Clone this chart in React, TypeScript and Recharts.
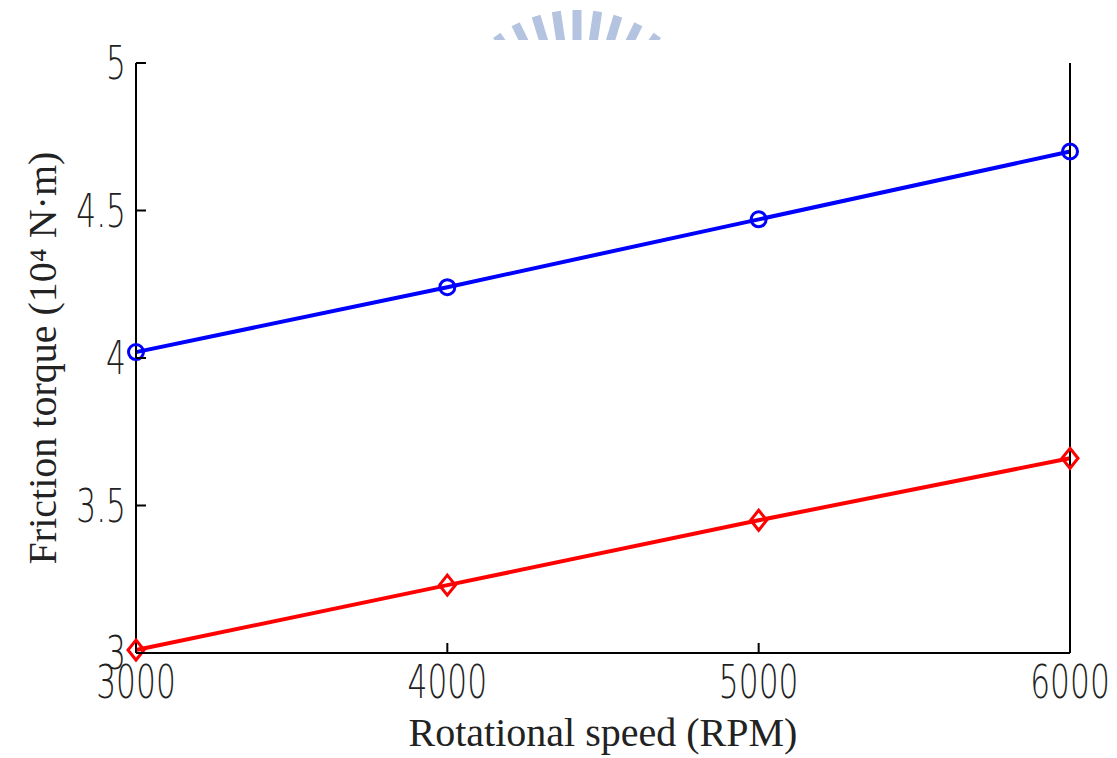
import { LineChart, Line, XAxis, YAxis } from 'recharts';

const rpm = [3000, 4000, 5000, 6000];
const torqueBlue = [4.02, 4.24, 4.47, 4.7];
const torqueRed = [3.01, 3.23, 3.45, 3.66];
const xTicks = [3000, 4000, 5000, 6000];
const yTicks = [3, 3.5, 4, 4.5, 5];

const data = rpm.map((r, i) => ({ rpm: r, blue: torqueBlue[i], red: torqueRed[i] }));

const tickFont = "'DejaVu Sans', sans-serif";
const titleFont = "'Liberation Serif', 'DejaVu Serif', serif";
const TICK_LEN = 10;
const SQUASH = 0.68;

const TickText = ({ x, y, anchor, value }: any) => (
    <g transform={`translate(${x},${y}) scale(${SQUASH},1)`}>
        <text x={0} y={0} textAnchor={anchor} fontSize={46} fontWeight={200} fontFamily={tickFont} fill="#222">
            {value}
        </text>
    </g>
);

const BottomTick = (props: any) => {
    const { x, y, payload } = props;
    return (
        <g>
            <line x1={x} y1={y} x2={x} y2={y - TICK_LEN} stroke="#000" strokeWidth={2} />
            <TickText x={x} y={y + 45} anchor="middle" value={payload.value} />
        </g>
    );
};

const TopTick = (props: any) => {
    const { x, y } = props;
    return <line x1={x} y1={y} x2={x} y2={y + TICK_LEN} stroke="#000" strokeWidth={2} />;
};

const LeftTick = (props: any) => {
    const { x, y, payload } = props;
    return (
        <g>
            <line x1={x} y1={y} x2={x + TICK_LEN} y2={y} stroke="#000" strokeWidth={2} />
            <TickText x={x - 10} y={y + 16} anchor="end" value={payload.value} />
        </g>
    );
};

const RightTick = (props: any) => {
    const { x, y } = props;
    return <line x1={x} y1={y} x2={x - TICK_LEN} y2={y} stroke="#000" strokeWidth={2} />;
};

const CircleDot = (props: any) => {
    const { cx, cy } = props;
    return <circle cx={cx} cy={cy} r={7.5} fill="none" stroke="#0000ff" strokeWidth={3} />;
};

const DiamondDot = (props: any) => {
    const { cx, cy } = props;
    return (
        <polygon
            points={`${cx},${cy - 10} ${cx + 8},${cy} ${cx},${cy + 10} ${cx - 8},${cy}`}
            fill="none"
            stroke="#ff0000"
            strokeWidth={3}
        />
    );
};

// faint logo watermark at the top edge
const Watermark = () => {
    const cx = 577;
    const cy = 150;
    const angles = [-44, -35, -26, -17, -8.5, 0, 8.5, 17, 26, 35, 44];
    return (
        <svg width={1117} height={60} style={{ position: 'absolute', left: 0, top: 0, pointerEvents: 'none' }}>
            <defs>
                <clipPath id="wm">
                    <rect x={0} y={0} width={1117} height={40} />
                </clipPath>
            </defs>
            <g clipPath="url(#wm)">
                {angles.map((a) => (
                    <line
                        key={a}
                        x1={cx + 100 * Math.sin((a * Math.PI) / 180)}
                        y1={cy - 100 * Math.cos((a * Math.PI) / 180)}
                        x2={cx + 140 * Math.sin((a * Math.PI) / 180)}
                        y2={cy - 140 * Math.cos((a * Math.PI) / 180)}
                        stroke="#b4c3e0"
                        strokeWidth={9}
                    />
                ))}
            </g>
        </svg>
    );
};

export default function App() {
    return (
        <div style={{ position: 'absolute', left: 0, top: 0, width: 1117, height: 758, background: '#fff' }}>
            <Watermark />
            <LineChart width={1117} height={758} data={data} margin={{ top: 63, right: 0, bottom: 0, left: 0 }}>
                <XAxis
                    dataKey="rpm"
                    type="number"
                    domain={[3000, 6000]}
                    ticks={xTicks}
                    height={105}
                    tickSize={0}
                    tickMargin={0}
                    tick={<BottomTick />}
                    axisLine={{ stroke: '#000', strokeWidth: 2 }}
                    label={{
                        value: 'Rotational speed (RPM)',
                        position: 'insideBottom',
                        offset: 12,
                        fontSize: 40,
                        fontFamily: titleFont,
                        fill: '#222'
                    }}
                />
                <XAxis
                    xAxisId="top"
                    dataKey="rpm"
                    type="number"
                    orientation="top"
                    domain={[3000, 6000]}
                    ticks={xTicks}
                    height={0}
                    tickSize={0}
                    tickMargin={0}
                    tick={<TopTick />}
                    axisLine={{ stroke: '#000', strokeWidth: 2 }}
                />
                <YAxis
                    type="number"
                    domain={[3, 5]}
                    ticks={yTicks}
                    width={136}
                    tickSize={0}
                    tickMargin={0}
                    tick={<LeftTick />}
                    axisLine={{ stroke: '#000', strokeWidth: 2 }}
                    label={{
                        value: 'Friction torque (10⁴ N·m)',
                        angle: -90,
                        position: 'insideLeft',
                        offset: 42,
                        fontSize: 40,
                        fontFamily: titleFont,
                        fill: '#222',
                        style: { textAnchor: 'middle' }
                    }}
                />
                <YAxis
                    yAxisId="right"
                    orientation="right"
                    type="number"
                    domain={[3, 5]}
                    ticks={yTicks}
                    width={47}
                    tickSize={0}
                    tickMargin={0}
                    tick={<RightTick />}
                    axisLine={{ stroke: '#000', strokeWidth: 2 }}
                />
                <Line
                    type="linear"
                    dataKey="blue"
                    stroke="#0000ff"
                    strokeWidth={4}
                    dot={<CircleDot />}
                    activeDot={false}
                    isAnimationActive={false}
                />
                <Line
                    type="linear"
                    dataKey="red"
                    stroke="#ff0000"
                    strokeWidth={4}
                    dot={<DiamondDot />}
                    activeDot={false}
                    isAnimationActive={false}
                />
            </LineChart>
        </div>
    );
}
